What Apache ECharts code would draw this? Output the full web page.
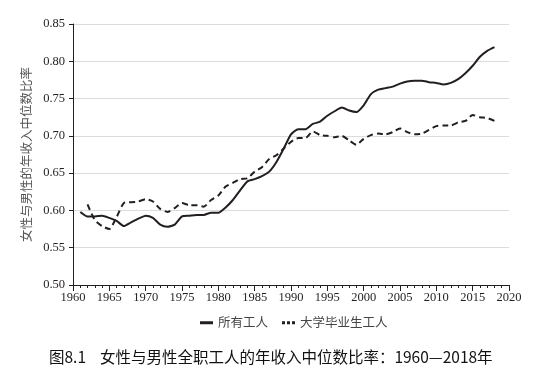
<!DOCTYPE html>
<html lang="zh">
<head>
    <meta charset="UTF-8">
    <title>女性与男性全职工人的年收入中位数比率</title>
    <script src="https://cdn.jsdelivr.net/npm/echarts@6/dist/echarts.min.js"></script>
    <style>
        html, body, #chart {
            width: 533px;
            height: 378px;
            padding: 0;
            margin: 0;
            background: #fff;
        }
    </style>
</head>
<body>
<div id="chart"></div>
<script>
    var years = [];
    for (var y = 1961; y <= 2018; y++) years.push(y);

    // 所有工人, 1961-2018
    var allWorkers = [
        0.598, 0.592, 0.592, 0.593, 0.590, 0.586, 0.579, 0.584, 0.589, 0.593,
        0.590, 0.581, 0.578, 0.581, 0.592, 0.593, 0.594, 0.594, 0.597, 0.597,
        0.604, 0.614, 0.627, 0.639, 0.642, 0.646, 0.652, 0.665, 0.683, 0.702,
        0.709, 0.709, 0.716, 0.719, 0.727, 0.733, 0.738, 0.734, 0.732, 0.741,
        0.756, 0.762, 0.764, 0.766, 0.770, 0.773, 0.774, 0.774, 0.772, 0.771,
        0.769, 0.771, 0.776, 0.784, 0.794, 0.806, 0.814, 0.819
    ];

    // 大学毕业生工人, 1962-2018 (1961 has no value)
    var collegeWorkers = [
        null, 0.608, 0.587, 0.579, 0.575, 0.591, 0.610, 0.611, 0.612, 0.615,
        0.612, 0.602, 0.598, 0.603, 0.610, 0.607, 0.607, 0.605, 0.614, 0.620,
        0.632, 0.637, 0.642, 0.643, 0.652, 0.658, 0.669, 0.674, 0.683, 0.692,
        0.697, 0.697, 0.706, 0.701, 0.700, 0.698, 0.700, 0.694, 0.688, 0.696,
        0.701, 0.703, 0.702, 0.705, 0.710, 0.705, 0.702, 0.703, 0.708, 0.713,
        0.714, 0.714, 0.718, 0.720, 0.728, 0.725, 0.724, 0.720
    ];

    function pairs(vals) {
        return years.map(function (yr, i) {
            return [yr, vals[i]];
        });
    }

    var serif = "'Liberation Serif', 'DejaVu Serif', serif";
    var cjk = "'Noto Sans CJK SC', sans-serif";
    var ink = "#231f20";

    var myChart = echarts.init(document.getElementById("chart"));
    myChart.setOption({
        animation: false,
        title: {
            text: "图8.1    女性与男性全职工人的年收入中位数比率：1960—2018年",
            left: 44,
            bottom: 8,
            textStyle: {
                fontFamily: cjk,
                fontSize: 15.5,
                fontWeight: "normal",
                color: "#111"
            }
        },
        legend: {
            bottom: 44,
            left: 195,
            itemWidth: 13,
            itemHeight: 3,
            itemGap: 14,
            textStyle: {
                fontFamily: cjk,
                fontSize: 12.5,
                color: "#444"
            },
            data: [{
                name: "所有工人",
                icon: "path://M0,0h13v3h-13z"
            }, {
                name: "大学毕业生工人",
                icon: "path://M0,0h3v3h-3zM5,0h3v3h-3zM10,0h3v3h-3z"
            }]
        },
        grid: {
            left: 73,
            right: 24,
            top: 24,
            bottom: 93
        },
        xAxis: {
            type: "value",
            min: 1960,
            max: 2020,
            interval: 5,
            axisLine: {lineStyle: {color: ink, width: 1}},
            axisTick: {show: true, length: 6, lineStyle: {color: ink}},
            minorTick: {show: true, splitNumber: 5, length: 3, lineStyle: {color: ink}},
            splitLine: {show: false},
            axisLabel: {
                fontFamily: serif,
                fontSize: 12.5,
                color: ink,
                margin: 6,
                formatter: function (v) {
                    return String(v);
                }
            }
        },
        yAxis: {
            type: "value",
            min: 0.5,
            max: 0.85,
            interval: 0.05,
            name: "女性与男性的年收入中位数比率",
            nameLocation: "middle",
            nameRotate: 90,
            nameGap: 40,
            nameTextStyle: {
                fontFamily: cjk,
                fontSize: 12.5,
                color: "#555"
            },
            axisLine: {show: true, lineStyle: {color: ink, width: 1}},
            axisTick: {show: true, length: 4, lineStyle: {color: ink}},
            splitLine: {lineStyle: {color: "#dcdcdc", width: 1}},
            axisLabel: {
                fontFamily: serif,
                fontSize: 12.5,
                color: ink,
                margin: 8,
                formatter: function (v) {
                    return v.toFixed(2);
                }
            }
        },
        series: [{
            name: "所有工人",
            type: "line",
            data: pairs(allWorkers),
            symbol: "none",
            smooth: 0.2,
            itemStyle: {color: ink},
            lineStyle: {color: ink, width: 2}
        }, {
            name: "大学毕业生工人",
            type: "line",
            data: pairs(collegeWorkers),
            symbol: "none",
            smooth: 0.2,
            itemStyle: {color: ink},
            lineStyle: {color: ink, width: 2, type: [6, 4]}
        }]
    });
</script>
</body>
</html>
